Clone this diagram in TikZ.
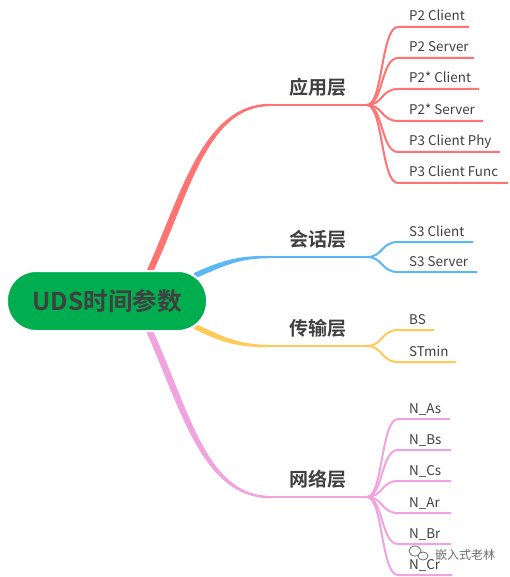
\documentclass[tikz,border=0pt]{standalone}
\usepackage{fontspec}
\usetikzlibrary{calc}
\setmainfont{Noto Sans}
\newfontfamily\cjk{Noto Sans CJK SC}
\newfontfamily\cjkb{Noto Sans CJK SC Bold}
\definecolor{cred}{HTML}{FF7373}
\definecolor{cblue}{HTML}{5CB8F5}
\definecolor{cyel}{HTML}{FFCA58}
\definecolor{cpink}{HTML}{F0A3DE}
\definecolor{cgreen}{HTML}{00AE4F}
\definecolor{ctext}{HTML}{404040}
\definecolor{cwm}{HTML}{6E6E6E}
\tikzset{
  rootbox/.style={fill=cgreen, draw=white, line width=2, rounded corners=29, minimum width=200, minimum height=60, inner sep=0, text=ctext, font=\cjkb\fontsize{24.5}{24.5}\selectfont},
  branchlabel/.style={text=ctext, font=\cjkb\fontsize{19}{19}\selectfont, inner sep=0},
  leaflabel/.style={text=ctext, font=\cjk\fontsize{13.4}{13.4}\selectfont, anchor=base west, inner sep=0},
  stem/.style={line width=2.5},
  leafline/.style={line width=2},
  wmtext/.style={text=cwm, font=\cjk\fontsize{12}{12}\selectfont, inner sep=0},
}
\begin{document}
\begin{tikzpicture}[x=1pt,y=-1pt]
\useasboundingbox (0,0) rectangle (509,577);
\fill[white] (0,0) rectangle (509,577);

% ---- coordinates
\coordinate (rA) at (150,271);
\coordinate (rB) at (194,276);
\coordinate (rC) at (194,326);
\coordinate (rD) at (150,332);
\coordinate (kA) at (270,105);
\coordinate (kB) at (270,257);
\coordinate (kC) at (270,346);
\coordinate (kD) at (270,497);
\coordinate (hA) at (367,105);
\coordinate (hB) at (367,257);
\coordinate (hC) at (367,346);
\coordinate (hD) at (367,497);

% ---- main branches (tapered)
\fill[cred] ($(rA)+(-3.5,0)$) .. controls (181,195) and (203,103.8) .. ($(kA)+(0,-1.2)$)
  -- ($(kA)+(0,1.2)$) .. controls (207,106.2) and (189,195) .. ($(rA)+(3.5,0)$) -- cycle;
\draw[cred, stem] (kA) -- (hA);
\fill[cblue] ($(rB)+(0,-3)$) .. controls (225,259) and (240,255.8) .. ($(kB)+(0,-1.2)$)
  -- ($(kB)+(0,1.2)$) .. controls (240,258.2) and (225,265) .. ($(rB)+(0,3)$) -- cycle;
\draw[cblue, stem] (kB) -- (hB);
\fill[cyel] ($(rC)+(0,-3)$) .. controls (225,338) and (240,344.8) .. ($(kC)+(0,-1.2)$)
  -- ($(kC)+(0,1.2)$) .. controls (240,347.2) and (225,344) .. ($(rC)+(0,3)$) -- cycle;
\draw[cyel, stem] (kC) -- (hC);
\fill[cpink] ($(rD)+(-3.5,0)$) .. controls (181,410) and (203,498.2) .. ($(kD)+(0,1.2)$)
  -- ($(kD)+(0,-1.2)$) .. controls (207,495.8) and (189,410) .. ($(rD)+(3.5,0)$) -- cycle;
\draw[cpink, stem] (kD) -- (hD);

\node[rootbox] (root) at (107,301) {UDS时间参数};

\node[branchlabel] (bA) at (318,87) {应用层};
\node[branchlabel] (bB) at (318,239) {会话层};
\node[branchlabel] (bC) at (318,328) {传输层};
\node[branchlabel] (bD) at (318,479) {网络层};

% ---- leaves: hub, hub y, colour, y, end x, name, text
\foreach \hub/\hy/\col/\y/\ex/\nm/\txt in {
  hA/105/cred/27/469/a1/P2 Client,
  hA/105/cred/58/474/a2/P2 Server,
  hA/105/cred/89/479/a3/P2* Client,
  hA/105/cred/121/483/a4/P2* Server,
  hA/105/cred/152/500/a5/P3 Client Phy,
  hA/105/cred/183/508/a6/P3 Client Func,
  hB/257/cblue/242/473/b1/S3 Client,
  hB/257/cblue/272/477/b2/S3 Server,
  hC/346/cyel/330/434/c1/BS,
  hC/346/cyel/362/456/c2/STmin,
  hD/497/cpink/419/450/d1/N\_As,
  hD/497/cpink/450/451/d2/N\_Bs,
  hD/497/cpink/481/451/d3/N\_Cs,
  hD/497/cpink/513/451/d4/N\_Ar,
  hD/497/cpink/544/451/d5/N\_Br,
  hD/497/cpink/575/452/d6/N\_Cr}{
  \coordinate (\nm s) at (398,\y);
  \coordinate (\nm e) at (\ex,\y);
  \draw[\col, leafline] (\hub) .. controls (383,\hy) and (381,\y) .. (\nm s) -- (\nm e);
  \node[leaflabel, xshift=11pt, yshift=6pt] (\nm) at (\nm s) {\txt};
}

% ---- watermark
\node[wmtext, anchor=west] (wm) at (435,555) {嵌入式老林};
\draw[cwm, line width=0.8] (415,551) ellipse [x radius=6, y radius=5];
\draw[cwm, line width=0.8, fill=white] (423,556) ellipse [x radius=5, y radius=4];
\end{tikzpicture}
\end{document}
